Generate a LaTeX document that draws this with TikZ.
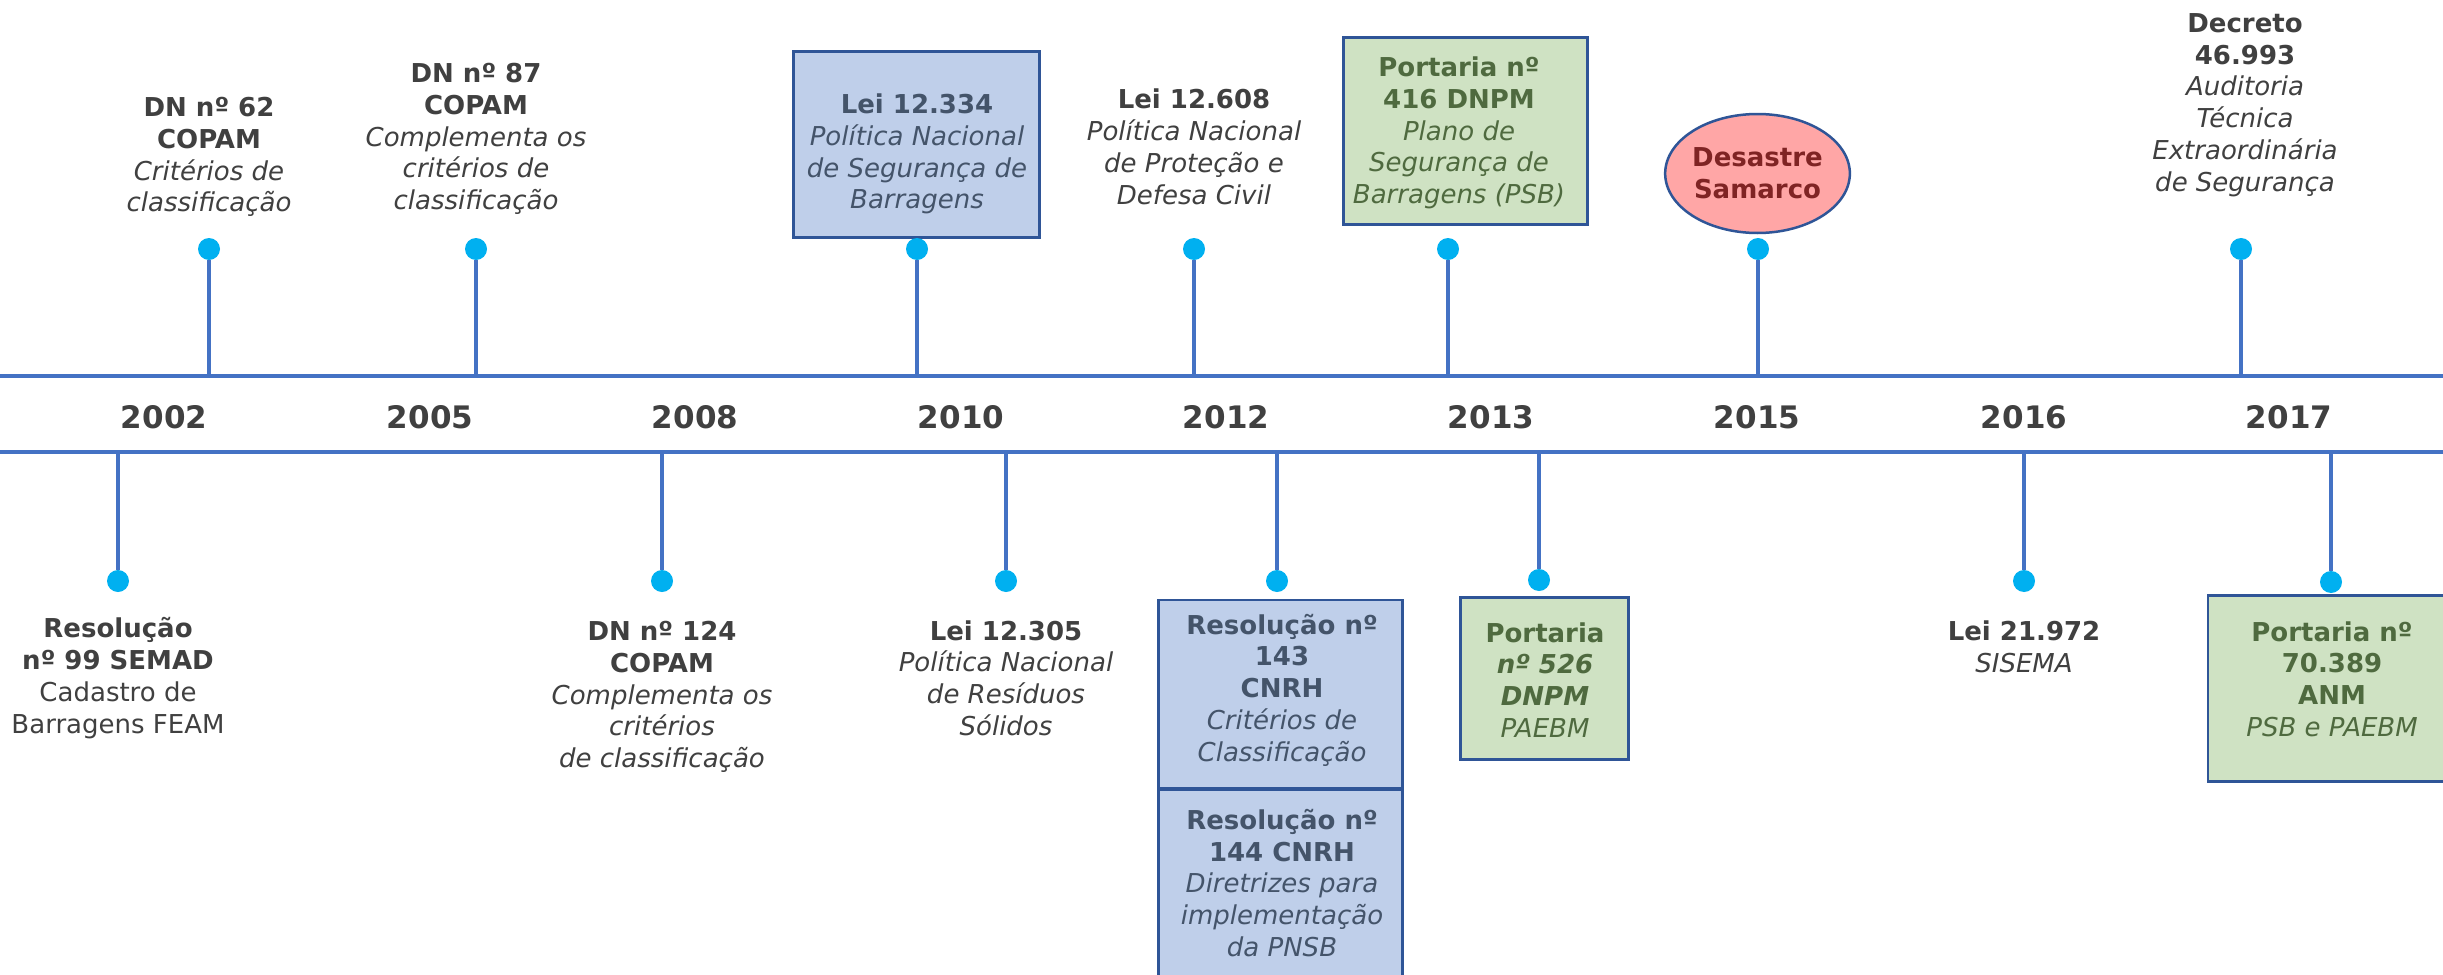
\documentclass[tikz,border=0pt]{standalone}
\usepackage{fontspec}
\setmainfont{DejaVu Sans}
\usetikzlibrary{shapes.geometric}
\definecolor{axisblue}{HTML}{4472C4}
\definecolor{dotblue}{HTML}{00B0F0}
\definecolor{txtgray}{HTML}{404040}
\definecolor{boxborder}{HTML}{2F5597}
\definecolor{bluefill}{HTML}{BFCFEA}
\definecolor{bluetext}{HTML}{44546A}
\definecolor{greenfill}{HTML}{CFE2C3}
\definecolor{greentext}{HTML}{4F6A3F}
\definecolor{pinkfill}{HTML}{FFA6A6}
\definecolor{redtext}{HTML}{7F2424}
\newcommand{\mytextsize}{\fontsize{26}{31.8}\selectfont}
\newcommand{\myyearsize}{\fontsize{31}{37}\selectfont}
\begin{document}
\begin{tikzpicture}[x=1pt,y=-1pt,
  txt/.style={align=center,font=\mytextsize,text=txtgray,inner sep=0pt},
  frame/.style={draw=boxborder,line width=2.5pt,inner sep=0pt},
  bluebox/.style={frame,fill=bluefill},
  greenbox/.style={frame,fill=greenfill},
  dot/.style={circle,fill=dotblue,minimum size=22pt,inner sep=0pt},
  tick/.style={draw=axisblue,line width=3.5pt},
  axis/.style={draw=axisblue,line width=4.5pt},
  year/.style={font=\myyearsize\bfseries,text=txtgray,inner sep=0pt}]
\useasboundingbox (0,0) rectangle (2443,974);
\clip (0,0) rectangle (2443,974);
\fill[white] (0,0) rectangle (2443,974);

% axis lines
\coordinate (topL) at (0,376);
\coordinate (topR) at (2443,376);
\coordinate (botL) at (0,452);
\coordinate (botR) at (2443,452);
\draw[axis] (topL) -- (topR);
\draw[axis] (botL) -- (botR);

% years
\node[year] (y2002) at (164,417) {2002};
\node[year] (y2005) at (430,417) {2005};
\node[year] (y2008) at (695,417) {2008};
\node[year] (y2010) at (961,417) {2010};
\node[year] (y2012) at (1226,417) {2012};
\node[year] (y2013) at (1491,417) {2013};
\node[year] (y2015) at (1757,417) {2015};
\node[year] (y2016) at (2024,417) {2016};
\node[year] (y2017) at (2289,417) {2017};

% ---------- top events ----------
% 1 DN 62
\coordinate (a1) at (209,376);
\node[dot] (d1) at (209,249) {};
\draw[tick] (a1) -- (d1);
\node[txt] (e1) at (209,157) {\textbf{DN nº 62}\\\textbf{COPAM}\\\textit{Critérios de}\\\textit{classificação}};

% 2 DN 87
\coordinate (a2) at (476,376);
\node[dot] (d2) at (476,249) {};
\draw[tick] (a2) -- (d2);
\node[txt] (e2) at (476,139) {\textbf{DN nº 87}\\\textbf{COPAM}\\\textit{Complementa os}\\\textit{critérios de}\\\textit{classificação}};

% 3 Lei 12.334
\coordinate (a3) at (917,376);
\node[bluebox,minimum width=246pt,minimum height=186pt] (box3) at (916.5,144.5) {};
\node[dot] (d3) at (917,249) {};
\draw[tick] (a3) -- (d3);
\node[txt,text=bluetext] (e3) at (917,154) {\textbf{Lei 12.334}\\\textit{Política Nacional}\\\textit{de Segurança de}\\\textit{Barragens}};

% 4 Lei 12.608
\coordinate (a4) at (1194,376);
\node[dot] (d4) at (1194,249) {};
\draw[tick] (a4) -- (d4);
\node[txt] (e4) at (1194,147) {\textbf{Lei 12.608}\\\textit{Política Nacional}\\\textit{de Proteção e}\\\textit{Defesa Civil}};

% 5 Portaria 416
\coordinate (a5) at (1448,376);
\node[greenbox,minimum width=244pt,minimum height=187pt] (box5) at (1465.5,131) {};
\node[dot] (d5) at (1448,249) {};
\draw[tick] (a5) -- (d5);
\node[txt,text=greentext] (e5) at (1459,133) {\textbf{Portaria nº}\\\textbf{416 DNPM}\\\textit{Plano de}\\\textit{Segurança de}\\\textit{Barragens (PSB)}};

% 6 Desastre Samarco
\coordinate (a6) at (1758,376);
\node[dot] (d6) at (1758,249) {};
\draw[tick] (a6) -- (d6);
\node[ellipse,frame,fill=pinkfill,minimum width=181pt,minimum height=119pt,align=center,font=\mytextsize\bfseries,text=redtext] (e6) at (1757.5,173.5) {Desastre\\Samarco};

% 7 Decreto 46.993
\coordinate (a7) at (2241,376);
\node[dot] (d7) at (2241,249) {};
\draw[tick] (a7) -- (d7);
\node[txt] (e7) at (2245,105) {\textbf{Decreto}\\\textbf{46.993}\\\textit{Auditoria}\\\textit{Técnica}\\\textit{Extraordinária}\\\textit{de Segurança}};

% ---------- bottom events ----------
% 1 Resolução 99
\coordinate (b1) at (118,452);
\node[dot] (g1) at (118,581) {};
\draw[tick] (b1) -- (g1);
\node[txt] (f1) at (118,678) {\textbf{Resolução}\\\textbf{nº 99 SEMAD}\\Cadastro de\\Barragens FEAM};

% 2 DN 124
\coordinate (b2) at (662,452);
\node[dot] (g2) at (662,581) {};
\draw[tick] (b2) -- (g2);
\node[txt] (f2) at (662,697) {\textbf{DN nº 124}\\\textbf{COPAM}\\\textit{Complementa os}\\\textit{critérios}\\\textit{de classificação}};

% 3 Lei 12.305
\coordinate (b3) at (1006,452);
\node[dot] (g3) at (1006,581) {};
\draw[tick] (b3) -- (g3);
\node[txt] (f3) at (1006,678) {\textbf{Lei 12.305}\\\textit{Política Nacional}\\\textit{de Resíduos}\\\textit{Sólidos}};

% 4 Resoluções 143 / 144
\coordinate (b4) at (1277,452);
\node[dot] (g4) at (1277,581) {};
\draw[tick] (b4) -- (g4);
\node[bluebox,minimum width=244pt,minimum height=188pt] (box4a) at (1280.5,694) {};
\node[bluebox,minimum width=244pt,minimum height=200pt] (box4b) at (1280.5,889) {};
\draw[boxborder,line width=4pt] (box4a.south west) -- (box4a.south east);
\node[txt,text=bluetext] (f4a) at (1282,690) {\textbf{Resolução nº}\\\textbf{143}\\\textbf{CNRH}\\\textit{Critérios de}\\\textit{Classificação}};
\node[txt,text=bluetext] (f4b) at (1282,883) {\textbf{Resolução nº}\\\textbf{144 CNRH}\\\textit{Diretrizes para}\\\textit{implementação}\\\textit{da PNSB}};

% 5 Portaria 526
\coordinate (b5) at (1539,452);
\node[dot] (g5) at (1539,580) {};
\draw[tick] (b5) -- (g5);
\node[greenbox,minimum width=168pt,minimum height=162pt] (box5b) at (1544.5,678.5) {};
\node[txt,text=greentext] (f5) at (1545,680) {\textbf{Portaria}\\\textbf{\textit{nº 526}}\\\textbf{\textit{DNPM}}\\\textit{PAEBM}};

% 6 Lei 21.972
\coordinate (b6) at (2024,452);
\node[dot] (g6) at (2024,581) {};
\draw[tick] (b6) -- (g6);
\node[txt] (f6) at (2024,647) {\textbf{Lei 21.972}\\\textit{SISEMA}};

% 7 Portaria 70.389
\coordinate (b7) at (2331,452);
\node[greenbox,minimum width=248pt,minimum height=186pt] (box7) at (2332,688.5) {};
\node[dot] (g7) at (2331,582) {};
\draw[tick] (b7) -- (g7);
\node[txt,text=greentext] (f7) at (2332,679) {\textbf{Portaria nº}\\\textbf{70.389}\\\textbf{ANM}\\\textit{PSB e PAEBM}};
\end{tikzpicture}
\end{document}
